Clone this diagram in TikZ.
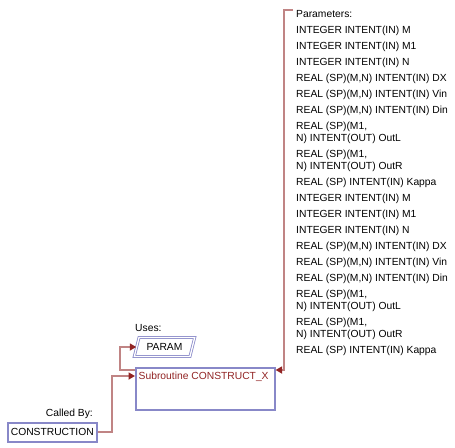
\documentclass[tikz,border=0pt]{standalone}
\usepackage{fontspec}
\setmainfont{Liberation Sans}
\usetikzlibrary{arrows.meta, shapes.geometric, calc, positioning}
\definecolor{boxblue}{RGB}{136,136,200}
\definecolor{wirepink}{RGB}{192,132,132}
\definecolor{tipred}{RGB}{146,36,36}

\begin{document}
\begin{tikzpicture}[
    x=1pt, y=-1pt, ->, >={Triangle[length=6.5pt, width=7pt, color=tipred]},
    every node/.style={font=\fontsize{10.3}{12}\selectfont},
    unitbox/.style={draw=boxblue, line width=1.6pt, fill=white, inner sep=0pt},
    modulebox/.style={trapezium, trapezium left angle=76, trapezium right angle=104, draw=boxblue, line width=0.8pt, double=white, double distance=1.3pt, inner xsep=0.5pt, minimum height=19pt},
    plaintext/.style={inner sep=0pt},
    connector/.style={draw=wirepink, line width=1.8pt}
]
\useasboundingbox (0,0) rectangle (455,447);
\node (subroutine_construct_x) [unitbox, anchor=north west, minimum width=139pt, minimum height=42pt, label={[plaintext, anchor=north west, text=tipred, xshift=3.5pt, yshift=-5pt]north west:Subroutine CONSTRUCT\_X}] at (135,367) {};
\node (uses_param) [modulebox] at (164.5,347) {PARAM};
\node (uses_label) [plaintext, anchor=base west] at (135,331) {Uses:};
\node (called_by_construction) [unitbox, anchor=north west, minimum width=89pt, minimum height=19pt] at (7,422) {CONSTRUCTION};
\node (called_by_label) [plaintext, anchor=base east] at (93,416) {Called By:};
\node (parameters_list) [plaintext, anchor=north west, align=left] at (296,10.5) {Parameters:\\[4pt]
INTEGER INTENT(IN) M\\[4pt]
INTEGER INTENT(IN) M1\\[4pt]
INTEGER INTENT(IN) N\\[4pt]
REAL (SP)(M,N) INTENT(IN) DX\\[4pt]
REAL (SP)(M,N) INTENT(IN) Vin\\[4pt]
REAL (SP)(M,N) INTENT(IN) Din\\[4pt]
REAL (SP)(M1,\\
N) INTENT(OUT) OutL\\[4pt]
REAL (SP)(M1,\\
N) INTENT(OUT) OutR\\[4pt]
REAL (SP) INTENT(IN) Kappa\\[4pt]
INTEGER INTENT(IN) M\\[4pt]
INTEGER INTENT(IN) M1\\[4pt]
INTEGER INTENT(IN) N\\[4pt]
REAL (SP)(M,N) INTENT(IN) DX\\[4pt]
REAL (SP)(M,N) INTENT(IN) Vin\\[4pt]
REAL (SP)(M,N) INTENT(IN) Din\\[4pt]
REAL (SP)(M1,\\
N) INTENT(OUT) OutL\\[4pt]
REAL (SP)(M1,\\
N) INTENT(OUT) OutR\\[4pt]
REAL (SP) INTENT(IN) Kappa};
\coordinate (parameters_start) at ($(parameters_list.north west)+(-3,-0.5)$);
\draw[connector, ->] (parameters_start) -| ($(subroutine_construct_x.north east)+(8,3)$) -- ($(subroutine_construct_x.north east)+(0,3)$);
\draw[connector, ->] ($(subroutine_construct_x.north west)+(0,3)$) -- ++(-15,0) |- (uses_param.west);
\draw[connector, ->] (called_by_construction.east) -- ++(14,0) |- ($(subroutine_construct_x.north west)+(0,9)$);
\end{tikzpicture}
\end{document}
